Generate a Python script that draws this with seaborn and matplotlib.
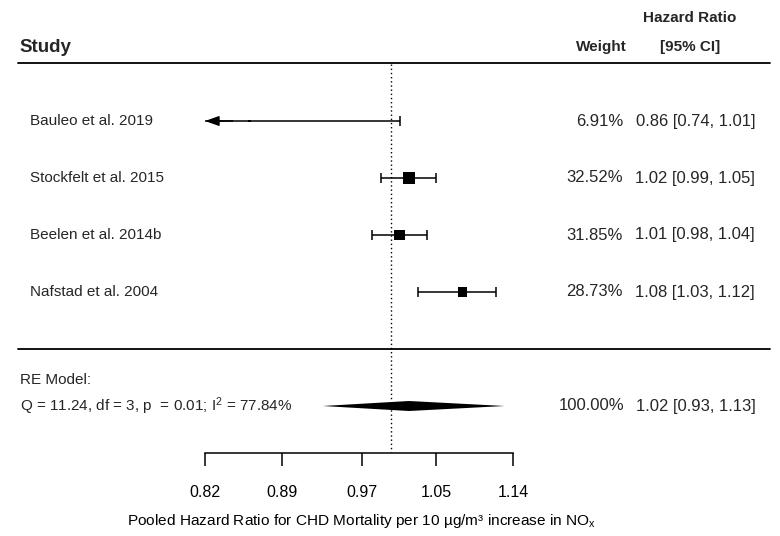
import numpy as np
import pandas as pd
import matplotlib
matplotlib.use("Agg")
import matplotlib.pyplot as plt
import matplotlib.transforms as mtransforms
from matplotlib.ticker import NullLocator, FixedLocator, FixedFormatter
import seaborn as sns

# ---------------- data ----------------
studies = ["Bauleo et al. 2019", "Stockfelt et al. 2015", "Beelen et al. 2014b", "Nafstad et al. 2004"]
hr = [0.86, 1.02, 1.01, 1.08]
ci_low = [0.74, 0.99, 0.98, 1.03]
ci_high = [1.01, 1.05, 1.04, 1.12]
weights = [6.91, 32.52, 31.85, 28.73]
row_pos = [5, 4, 3, 2]

re_est = 1.02
re_low = 0.93
re_high = 1.13
re_weight = 100.00
re_stats = "Q = 11.24, df = 3, p  = 0.01; I$^2$ = 77.84%"

tick_values = [0.82, 0.89, 0.97, 1.05, 1.14]
tick_labels = ["0.82", "0.89", "0.97", "1.05", "1.14"]
xlabel = "Pooled Hazard Ratio for CHD Mortality per 10 µg/m³ increase in NO$_\\mathregular{x}$"

df = pd.DataFrame({"study": studies, "hr": hr, "lo": ci_low, "hi": ci_high,
                   "weight": weights, "y": row_pos})

# ---------------- style ----------------
sns.set_theme(style="white")
plt.rcParams["font.family"] = ["Liberation Sans", "DejaVu Sans"]
plt.rcParams["mathtext.fontset"] = "custom"
plt.rcParams["mathtext.rm"] = "Liberation Sans"
plt.rcParams["mathtext.it"] = "Liberation Sans"

W, H = 780, 536
fig = plt.figure(figsize=(W / 100, H / 100), dpi=100)
ax = fig.add_axes([0, 0, 1, 1])
ax.set_facecolor("white")
ax.set_xscale("log")

# pixel mapping: 0.82 -> 205px, 1.14 -> 513px
lx0, lx1 = np.log(tick_values[0]), np.log(tick_values[-1])
per_px = (lx1 - lx0) / (513 - 205)
ax.set_xlim(np.exp(lx0 - 205 * per_px), np.exp(lx1 + (W - 513) * per_px))
# y mapping: y=0 -> 406px, 1 unit = 57px
ax.set_ylim(-(H - 406) / 57, 406 / 57)

def py(p):
    return (406 - p) / 57

def fx(p):
    return p / W

blend = mtransforms.blended_transform_factory(fig.transFigure, ax.transData)

# ---------------- CI lines ----------------
xmin_shown = tick_values[0]
for _, r in df.iterrows():
    lo_clip = max(r.lo, xmin_shown)
    ax.plot([lo_clip, r.hi], [r.y, r.y], color="black", lw=1.1, solid_capstyle="butt", zorder=2)
    ends = [r.hi] if r.lo < xmin_shown else [lo_clip, r.hi]
    for e in ends:
        ax.plot([e], [r.y], marker="|", ms=7, mew=1.1, color="black", zorder=2)
    if r.lo < xmin_shown:
        ax.annotate("", xy=(xmin_shown, r.y), xytext=(xmin_shown * 1.03, r.y),
                    arrowprops=dict(arrowstyle="-|>,head_length=0.7,head_width=0.25",
                                    color="black", lw=1.1, shrinkA=0, shrinkB=0),
                    zorder=3)

# squares, side proportional to weight
side_pt = {w: w * 0.245 for w in df.weight}
sizes = {w: s ** 2 for w, s in side_pt.items()}
sns.scatterplot(data=df, x="hr", y="y", size="weight", sizes=sizes, marker="s",
                color="black", edgecolor="black", linewidth=0, legend=False, ax=ax, zorder=4)
ax.set_xlabel("")
ax.set_ylabel("")

# summary diamond
dh = 5 / 57
ax.fill([re_low, re_est, re_high, re_est], [0, dh, 0, -dh], color="black", lw=0, zorder=4)

# reference line at 1
ax.plot([1, 1], [py(64), py(452)], color="black", lw=1.0, ls=(0, (1, 2)), zorder=1)

# horizontal rules
ax.plot([fx(18), fx(770)], [py(63), py(63)], transform=blend, color="black", lw=1.3, clip_on=False)
ax.plot([fx(18), fx(770)], [py(349), py(349)], transform=blend, color="black", lw=1.3, clip_on=False)

# ---------------- x axis ----------------
for s in ["top", "left", "right"]:
    ax.spines[s].set_visible(False)
ax.spines["bottom"].set_position(("data", py(453)))
ax.spines["bottom"].set_bounds(tick_values[0], tick_values[-1])
ax.spines["bottom"].set_color("black")
ax.spines["bottom"].set_linewidth(1.1)
ax.xaxis.set_major_locator(FixedLocator(tick_values))
ax.xaxis.set_major_formatter(FixedFormatter(tick_labels))
ax.xaxis.set_minor_locator(NullLocator())
ax.tick_params(axis="x", direction="out", length=9, width=1.1, color="black",
               labelsize=11.5, pad=14, bottom=True, labelcolor="black")
ax.set_yticks([])
ax.grid(False)

fig.text(fx(362), 1 - 521 / H, xlabel, ha="center", va="center", fontsize=11.1, color="black")

# ---------------- texts ----------------
fs = 11
fs_r = 12
ax.text(fx(19), py(47), "Study", transform=blend, ha="left", va="center",
        fontsize=13.5, fontweight="bold")
ax.text(fx(627), py(47), "Weight", transform=blend, ha="right", va="center",
        fontsize=11, fontweight="bold")
ax.text(fx(690), py(47), "[95% CI]", transform=blend, ha="center", va="center",
        fontsize=11, fontweight="bold")
ax.text(fx(690), py(18), "Hazard Ratio", transform=blend, ha="center", va="center",
        fontsize=11, fontweight="bold")

for _, r in df.iterrows():
    ax.text(fx(30), r.y, r.study, transform=blend, ha="left", va="center", fontsize=fs)
    ax.text(fx(623), r.y, f"{r.weight:.2f}%", transform=blend, ha="right", va="center", fontsize=fs_r)
    ax.text(fx(755), r.y, f"{r.hr:.2f} [{r.lo:.2f}, {r.hi:.2f}]", transform=blend,
            ha="right", va="center", fontsize=fs_r)

ax.text(fx(20), py(380), "RE Model:", transform=blend, ha="left", va="center", fontsize=fs)
ax.text(fx(20), 0, re_stats, transform=blend, ha="left", va="center", fontsize=fs)
ax.text(fx(624), 0, f"{re_weight:.2f}%", transform=blend, ha="right", va="center", fontsize=fs_r)
ax.text(fx(756), 0, f"{re_est:.2f} [{re_low:.2f}, {re_high:.2f}]", transform=blend,
        ha="right", va="center", fontsize=fs_r)

fig.savefig("out.png", dpi=100, facecolor="white")
